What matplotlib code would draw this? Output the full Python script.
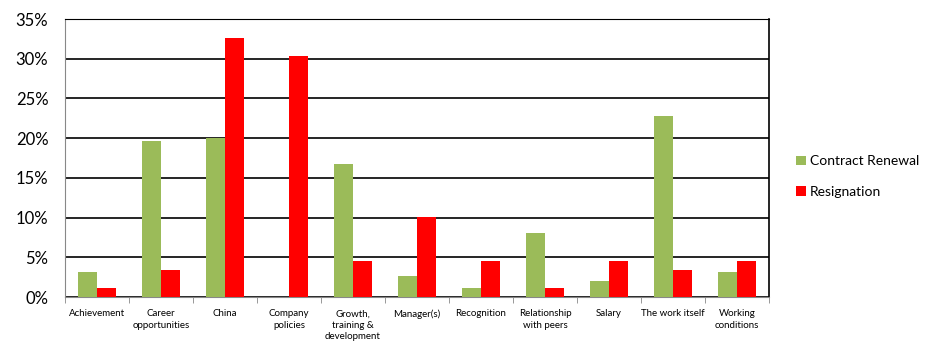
import matplotlib
matplotlib.use("Agg")
import matplotlib.pyplot as plt
import numpy as np
from matplotlib.ticker import FuncFormatter, MultipleLocator

categories = ["Achievement", "Career\nopportunities", "China", "Company\npolicies",
              "Growth,\ntraining &\ndevelopment", "Manager(s)", "Recognition",
              "Relationship\nwith peers", "Salary", "The work itself", "Working\nconditions"]
contract_renewal = [3.2, 19.6, 20.0, 0.0, 16.8, 2.7, 1.1, 8.1, 2.0, 22.8, 3.2]
resignation = [1.1, 3.4, 32.6, 30.3, 4.5, 10.1, 4.5, 1.1, 4.5, 3.4, 4.5]

plt.rcParams['font.family'] = ['Lato', 'DejaVu Sans']

fig = plt.figure(figsize=(9.32, 3.42), dpi=100)
ax = fig.add_axes([65/932, 45/342, 704/932, 278/342])

x = np.arange(len(categories))
w = 0.29
g = '#9BBB59'
r = '#FF0000'
ax.bar(x - w/2, contract_renewal, w, color=g, label='Contract Renewal', zorder=3)
ax.bar(x + w/2, resignation, w, color=r, label='Resignation', zorder=3)

ax.set_xlim(-0.5, len(categories) - 0.5)
ax.set_ylim(0, 35)
ax.yaxis.set_major_locator(MultipleLocator(5))
ax.yaxis.set_major_formatter(FuncFormatter(lambda v, p: f"{v:.0f}%"))
ax.grid(axis='y', color='black', linewidth=1.2, zorder=0)
ax.tick_params(axis='y', length=0, labelsize=12, pad=12)

ax.set_xticks(x)
ax.set_xticklabels(categories, fontsize=7, linespacing=1.3)
ax.set_xticks(np.arange(-0.5, len(categories)), minor=True)
ax.tick_params(axis='x', which='major', length=0, pad=9)
ax.tick_params(axis='x', which='minor', length=4, color='#888888', direction='out')

for s in ['left', 'bottom']:
    ax.spines[s].set_color('#888888')
ax.spines['top'].set_color('black')
ax.spines['right'].set_color('black')
ax.spines['right'].set_linewidth(1.2)

fig.legend(loc='center left', bbox_to_anchor=(796/932, 1 - 176.5/342), frameon=False,
           fontsize=10, handlelength=0.7, handleheight=0.7, handletextpad=0.3,
           labelspacing=1.3, borderpad=0, borderaxespad=0)

fig.savefig("out.png", dpi=100)
